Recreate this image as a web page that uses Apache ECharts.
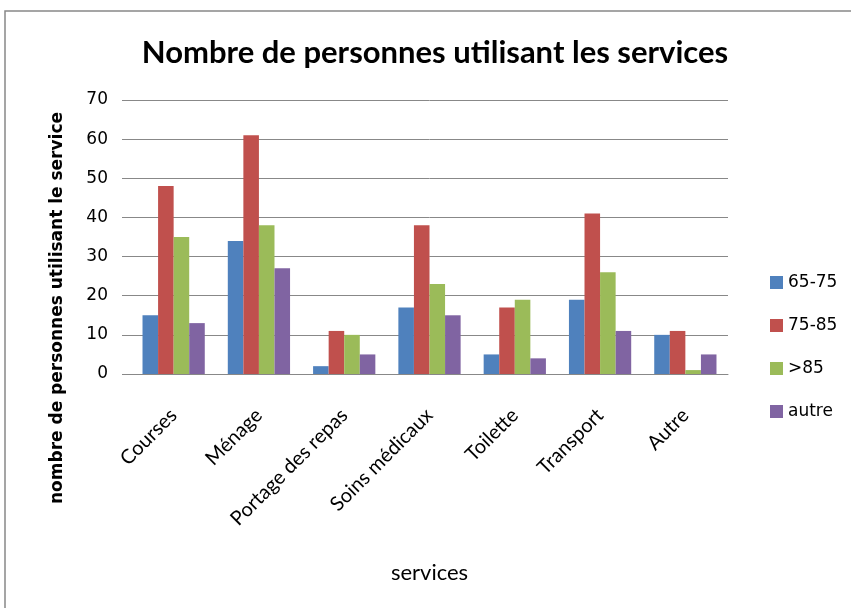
<!DOCTYPE html>
<html>
<head>
<meta charset="utf-8">
<script src="https://cdn.jsdelivr.net/npm/echarts@6/dist/echarts.min.js"></script>
<style>html,body{margin:0;padding:0;background:#fff}#c{width:851px;height:608px}</style>
</head>
<body>
<div id="c"></div>
<script>
const categories = ['Courses', 'Ménage', 'Portage des repas', 'Soins médicaux', 'Toilette', 'Transport', 'Autre'];
const seriesNames = ['65-75', '75-85', '>85', 'autre'];
const s6575 = [15, 34, 2, 17, 5, 19, 10];
const s7585 = [48, 61, 11, 38, 17, 41, 11];
const s85 = [35, 38, 10, 23, 19, 26, 1];
const sAutre = [13, 27, 5, 15, 4, 11, 5];
const yTicks = [0, 10, 20, 30, 40, 50, 60, 70];
const colors = ['#4F81BD', '#C0504D', '#9BBB59', '#8064A2'];

const chart = echarts.init(document.getElementById('c'), null, {renderer: 'canvas'});
const values = [s6575, s7585, s85, sAutre];
chart.setOption({
  animation: false,
  color: colors,
  title: {
    text: 'Nombre de personnes utilisant les services',
    left: 430, top: 32, textAlign: 'center',
    textStyle: {fontFamily: 'Lato', fontWeight: 'bold', fontSize: 31, color: '#000'}
  },
  graphic: [{
    type: 'rect', shape: {x: 5, y: 11, width: 900, height: 700},
    style: {fill: 'none', stroke: '#888', lineWidth: 1.5}, silent: true
  }],
  legend: {
    orient: 'vertical', left: 765, top: 269,
    itemWidth: 13, itemHeight: 13, itemGap: 26, icon: 'rect',
    textStyle: {fontFamily: 'DejaVu Sans', fontSize: 17, color: '#000'},
    data: seriesNames
  },
  grid: {left: 131, right: 123, top: 100, bottom: 234},
  xAxis: {
    type: 'category', data: categories,
    axisLine: {show: true, lineStyle: {color: '#888', width: 1}},
    axisTick: {show: false},
    axisLabel: {rotate: 45, margin: 38, interval: 0, fontFamily: 'Lato', fontSize: 20, color: '#000'},
    name: 'services', nameLocation: 'middle', nameGap: 188,
    nameTextStyle: {fontFamily: 'Lato', fontSize: 22, color: '#000'}
  },
  yAxis: {
    type: 'value', min: 0, max: 70, interval: 10,
    axisLine: {show: false},
    axisTick: {show: true, length: 9, lineStyle: {color: '#888'}},
    splitLine: {lineStyle: {color: '#888', width: 1}},
    axisLabel: {margin: 23, fontFamily: 'DejaVu Sans', fontSize: 17, color: '#000',
      formatter: v => yTicks.includes(v) ? String(v) : ''},
    name: 'nombre de personnes utilisant le service', nameLocation: 'middle', nameGap: 65,
    nameTextStyle: {fontFamily: 'DejaVu Sans', fontWeight: 'bold', fontSize: 17, color: '#000', padding: [0, 142, 0, 0]}
  },
  series: seriesNames.map((n, i) => ({
    name: n, type: 'bar', data: values[i],
    barGap: '0%', barCategoryGap: '27%'
  }))
});
</script>
</body>
</html>
